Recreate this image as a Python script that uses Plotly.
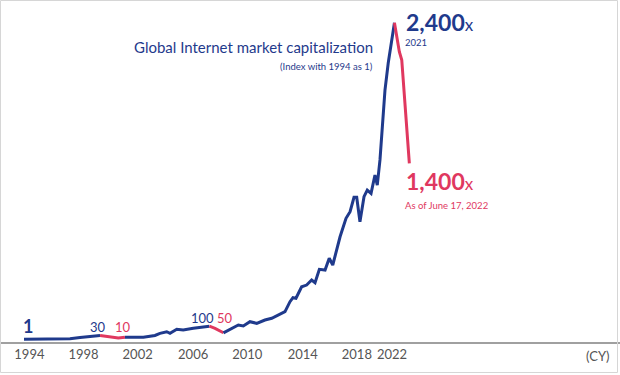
import plotly.graph_objects as go

# ---------------- data ----------------
years = [1994.00, 1995.55, 1996.66, 1997.40, 1998.14, 1998.88, 1999.62, 2000.36, 2000.97, 2001.46,
         2002.82, 2003.68, 2004.05, 2004.55, 2004.79, 2005.29, 2005.77, 2006.51, 2007.13, 2007.70,
         2008.12, 2008.74, 2009.35, 2009.84, 2010.21, 2010.70, 2011.20, 2011.81, 2012.31, 2012.80,
         2013.29, 2013.66, 2013.88, 2014.10, 2014.52, 2014.89, 2015.26, 2015.51, 2015.83, 2016.25,
         2016.56, 2016.82, 2017.36, 2017.80, 2018.10, 2018.39, 2018.59, 2018.83, 2019.13, 2019.37,
         2019.65, 2019.94, 2020.11, 2020.31, 2020.68, 2020.92, 2021.38, 2021.74, 2021.92, 2022.48]
index_values = [1, 1, 1, 5, 14, 22, 30, 16, 10, 16,
                16, 30, 46, 58, 46, 77, 71, 84, 92, 100,
                84, 50, 84, 109, 102, 134, 122, 147, 160, 185,
                210, 286, 316, 312, 399, 412, 450, 430, 531, 526,
                615, 564, 778, 918, 968, 1077, 1077, 892, 1082, 1132,
                1107, 1246, 1170, 1360, 1890, 2095, 2400, 2181, 2118, 1335]
# drawdown periods drawn in red (start year, end year)
drawdown_starts = [1999.62, 2007.70, 2021.38]
drawdown_ends = [2001.46, 2008.74, 2022.48]

tick_labels = ["1994", "1998", "2002", "2006", "2010", "2014", "2018", "2022"]
tick_positions = [1994.4, 1998.4, 2002.4, 2006.5, 2010.5, 2014.6, 2018.6, 2021.2]

BLUE = "#1f3a8c"
RED = "#e0385f"
GRAY_TXT = "#555555"
FONT = "Lato"

W, H = 620, 375
PLOT_BOTTOM = 342  # pixel row of the x axis line


def in_drawdown(a, b):
    return any(s <= a and b <= e for s, e in zip(drawdown_starts, drawdown_ends))


# split into coloured segments
segments = []
cur_x, cur_y, cur_c = [years[0]], [index_values[0]], None
for i in range(1, len(years)):
    c = RED if in_drawdown(years[i - 1], years[i]) else BLUE
    if cur_c is None or c == cur_c:
        cur_c = c
        cur_x.append(years[i]); cur_y.append(index_values[i])
    else:
        segments.append((cur_x, cur_y, cur_c))
        cur_x, cur_y, cur_c = [years[i - 1], years[i]], [index_values[i - 1], index_values[i]], c
segments.append((cur_x, cur_y, cur_c))

fig = go.Figure()
for sx, sy, c in segments:
    fig.add_trace(go.Scatter(x=sx, y=sy, mode="lines",
                             line=dict(color=c, width=3),
                             hoverinfo="skip", showlegend=False))


def px(xpix):
    return xpix / W


def py(ypix):
    return (PLOT_BOTTOM - ypix) / PLOT_BOTTOM


annotations = [
    dict(text="<b>1</b>", x=px(27.5), y=py(326), font=dict(size=18, color=BLUE)),
    dict(text="30", x=px(98), y=py(327), font=dict(size=13, color=BLUE)),
    dict(text="10", x=px(123), y=py(327), font=dict(size=13, color=RED)),
    dict(text="100", x=px(202), y=py(317.5), font=dict(size=13, color=BLUE)),
    dict(text="50", x=px(225), y=py(318), font=dict(size=13, color=RED)),
    dict(text="Global Internet market capitalization", x=px(375), y=py(47),
         xanchor="right", font=dict(size=15, color=BLUE)),
    dict(text="(Index with 1994 as 1)", x=px(375), y=py(66),
         xanchor="right", font=dict(size=9.5, color=BLUE)),
    dict(text="<b>2,400</b><span style='font-size:17px'>x</span>", x=px(404), y=py(22),
         xanchor="left", font=dict(size=23, color=BLUE)),
    dict(text="2021", x=px(403), y=py(42.5), xanchor="left",
         font=dict(size=9.5, color=BLUE)),
    dict(text="<b>1,400</b><span style='font-size:17px'>x</span>", x=px(404), y=py(181),
         xanchor="left", font=dict(size=23, color=RED)),
    dict(text="As of June 17, 2022", x=px(403), y=py(205.5), xanchor="left",
         font=dict(size=9.5, color=RED)),
    dict(text="(CY)", x=px(612), y=py(356), xanchor="right",
         font=dict(size=13, color=GRAY_TXT)),
]
for a in annotations:
    a.update(xref="paper", yref="paper", showarrow=False, yanchor="middle")
    a.setdefault("xanchor", "center")

fig.update_layout(
    width=W, height=H,
    margin=dict(l=0, r=0, t=0, b=H - PLOT_BOTTOM, pad=0),
    paper_bgcolor="white", plot_bgcolor="white",
    font=dict(family=FONT),
    xaxis=dict(range=[1992.226, 2038.05], showgrid=False, zeroline=False,
               showline=True, linecolor="#a0a0a0", linewidth=1.5,
               tickmode="array", tickvals=tick_positions, ticktext=tick_labels,
               ticks="", tickfont=dict(size=13, color=GRAY_TXT, family=FONT),
               fixedrange=True),
    yaxis=dict(range=[-19.7, 2572.7], visible=False, showgrid=False,
               zeroline=False, fixedrange=True),
    annotations=annotations,
    shapes=[dict(type="rect", xref="paper", yref="paper",
                 x0=px(0.5), x1=px(617.5), y0=py(372.5), y1=py(0.5),
                 line=dict(color="#d6d6d6", width=1))],
)

fig.write_html("out.html", config={"displayModeBar": False},
               post_script="document.body.style.margin='0';document.body.style.overflow='hidden';")
